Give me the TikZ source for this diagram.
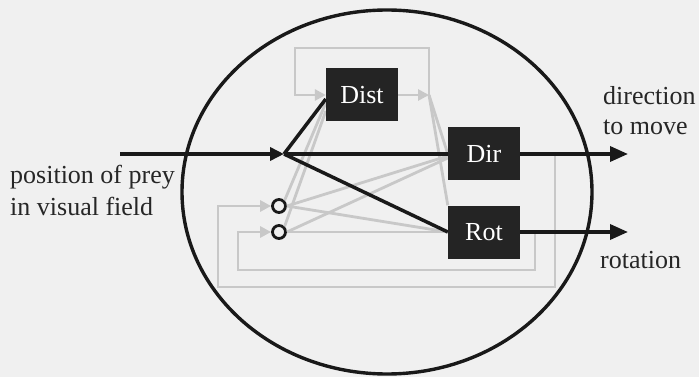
\documentclass[tikz,border=0pt]{standalone}
\usepackage{fontspec}
\setmainfont{Liberation Serif}
\usetikzlibrary{arrows.meta,calc}
\definecolor{bg}{RGB}{240,240,240}
\definecolor{lg}{RGB}{200,200,200}
\definecolor{bx}{RGB}{36,36,36}
\begin{document}
\begin{tikzpicture}[x=1pt,y=-1pt,
  blk/.style={line width=3.5pt,black!90},
  gry/.style={line width=2.8pt,lg},
  unit/.style={fill=bx,text=white,minimum width=72pt,minimum height=53pt,inner sep=0pt,font=\fontsize{26}{30}\selectfont},
  lbl/.style={anchor=base west,inner sep=0pt,font=\fontsize{26}{30}\selectfont,text=black!85},
  neuron/.style={circle,draw=black!90,line width=2.8pt,minimum size=13pt,inner sep=0pt},
  smalltip/.style={-{Triangle[length=11pt,width=11pt]}},
  midtip/.style={-{Triangle[length=14pt,width=13pt]}},
  bigtip/.style={-{Triangle[length=18pt,width=15pt]}}
]
\useasboundingbox (0,0) rectangle (699,377);
\fill[bg] (0,0) rectangle (699,377);

% nodes
\node[unit] (Dist) at (362,95) {Dist};
\node[unit] (Dir) at (484,154) {Dir};
\node[unit] (Rot) at (484,232) {Rot};
\node[neuron] (c1) at (279,206) {};
\node[neuron] (c2) at (279,232) {};
\coordinate (in) at (120,154);
\coordinate (J) at (284,154);
\coordinate (D) at (429,95);
\coordinate (oDir) at (628,154);
\coordinate (oRot) at (628,232);
\coordinate (tDir) at (555,154);
\coordinate (tRot) at (535,232);

% ellipse
\draw[line width=3.4pt,black!90] (387,192) ellipse [x radius=205pt, y radius=182pt];

% grey connections
\draw[gry,smalltip] (Dist.east) -- (D);
\draw[gry,smalltip] (D) |- (295,48) -- (295,95) -- (Dist.west);
\draw[gry] (D) -- (Dir.west);
\draw[gry] (D) -- (Rot.north west);
\draw[gry] (c1.north east) -- ($(Dist.west)+(0,8)$);
\draw[gry] (c2.north east) -- ($(Dist.west)+(0,16)$);
\draw[gry] (c1.east) -- ($(Dir.west)+(0,2)$);
\draw[gry] (c2.east) -- ($(Dir.west)+(0,4)$);
\draw[gry] (c1.east) -- (Rot.west);
\draw[gry] (c2.east) -- (Rot.west);
\draw[gry,smalltip] (tDir) -- (555,287) -| (218,206) -- (c1.west);
\draw[gry,smalltip] (tRot) -- (535,270) -| (238,232) -- (c2.west);

% black connections
\draw[blk,midtip] (in) -- (J);
\draw[blk] (J) -- (Dir.west);
\draw[blk] (J) -- ($(Dist.west)+(0,4)$);
\draw[blk] (J) -- (Rot.west);
\draw[blk,bigtip] (Dir.east) -- (oDir);
\draw[blk,bigtip] (Rot.east) -- (oRot);

% redraw boxes on top
\node[unit] at (Dist) {Dist};
\node[unit] at (Dir) {Dir};
\node[unit] at (Rot) {Rot};

% labels
\node[lbl] (t1) at (10,183) {position of prey};
\node[lbl] (t2) at (10,215) {in visual field};
\node[lbl] (t3) at (603,105) {direction};
\node[lbl] (t4) at (603,135) {to move};
\node[lbl] (t5) at (600,268) {rotation};
\end{tikzpicture}
\end{document}
